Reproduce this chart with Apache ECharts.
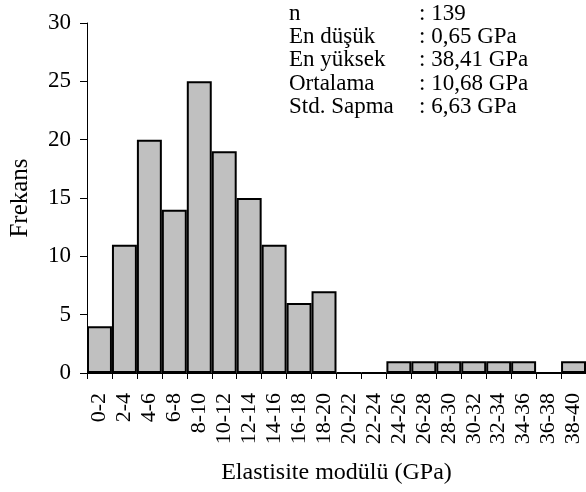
<!DOCTYPE html>
<html><head><meta charset="utf-8">
<script src="https://cdn.jsdelivr.net/npm/echarts@6/dist/echarts.min.js"></script>
<style>html,body{margin:0;padding:0;background:#fff}#c{width:586px;height:492px}</style>
</head><body><div id="c"></div>
<script>
const categories = ['0-2','2-4','4-6','6-8','8-10','10-12','12-14','14-16','16-18','18-20','20-22','22-24','24-26','26-28','28-30','30-32','32-34','34-36','36-38','38-40'];
const frequencies = [4,11,20,14,25,19,15,11,6,7,0,0,1,1,1,1,1,1,0,1];
const yTicks = {min:0, max:30, interval:5};
const statLabels = ['n','En düşük','En yüksek','Ortalama','Std. Sapma'];
const statValues = [': 139',': 0,65 GPa',': 38,41 GPa',': 10,68 GPa',': 6,63 GPa'];
const xTitle = 'Elastisite modülü (GPa)';
const yTitle = 'Frekans';

const FONT = '"Liberation Serif","Times New Roman",serif';
const chart = echarts.init(document.getElementById('c'), null, {renderer:'canvas'});
const graphics = [];
statLabels.forEach((s,i)=>{
  graphics.push({type:'text', left:289, top:2+i*23.4, style:{text:s, font:'23px '+FONT, fill:'#000'}});
  graphics.push({type:'text', left:419, top:2+i*23.4, style:{text:statValues[i], font:'23px '+FONT, fill:'#000'}});
});
chart.setOption({
  animation:false,
  grid:{left:86, right:0, top:23, bottom:119, containLabel:false},
  xAxis:{type:'category', data:categories,
    name:xTitle, nameLocation:'middle', nameGap:88,
    nameTextStyle:{fontFamily:FONT, fontSize:24, color:'#000'},
    axisLine:{show:true, lineStyle:{color:'#000', width:1}},
    axisTick:{show:true, alignWithLabel:false, length:6, lineStyle:{color:'#000'}},
    axisLabel:{rotate:90, margin:20, interval:0, fontFamily:FONT, fontSize:22, color:'#000'}
  },
  yAxis:{type:'value', min:yTicks.min, max:yTicks.max, interval:yTicks.interval,
    name:yTitle, nameLocation:'middle', nameGap:54, nameRotate:90,
    nameTextStyle:{fontFamily:FONT, fontSize:25, color:'#000'},
    axisLine:{show:true, lineStyle:{color:'#000', width:1}},
    axisTick:{show:true, length:7, lineStyle:{color:'#000'}},
    splitLine:{show:false},
    axisLabel:{margin:16, fontFamily:FONT, fontSize:23, color:'#000'}
  },
  series:[{type:'bar', data:frequencies, barCategoryGap:'0%',
    itemStyle:{color:'#c0c0c0', borderColor:'#000', borderWidth:2}}],
  graphic:graphics
});
</script></body></html>
